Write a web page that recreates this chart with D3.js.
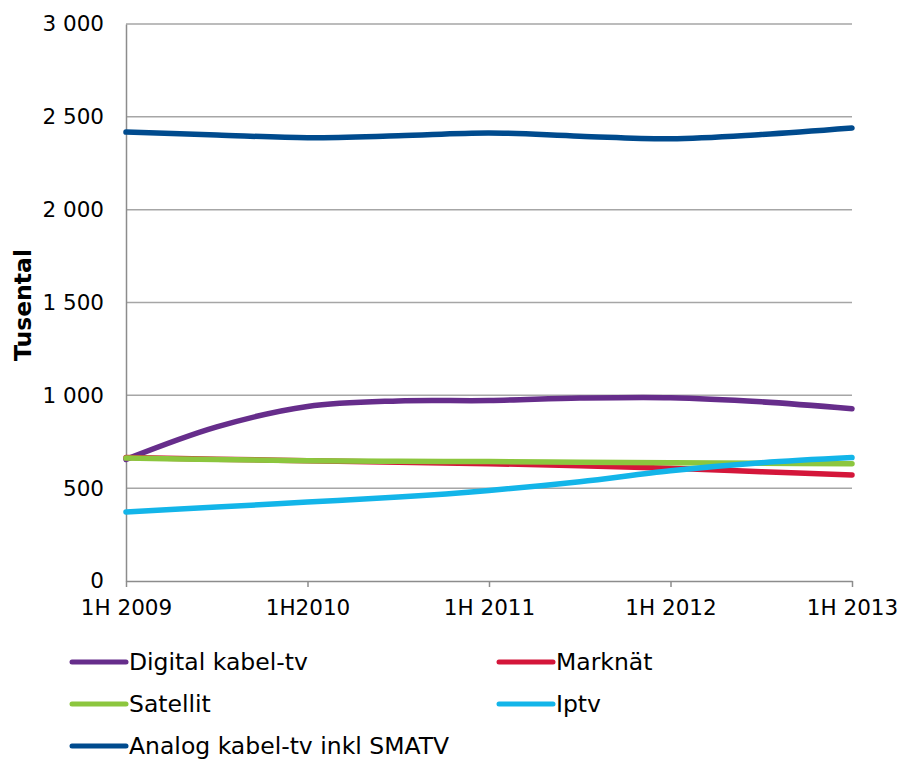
<!DOCTYPE html>
<html>
<head>
<meta charset="utf-8">
<script src="https://cdn.jsdelivr.net/npm/d3@7"></script>
<style>
  body { margin: 0; background: #fff; }
  svg { display: block; font-family: "DejaVu Sans", Verdana, sans-serif; }
</style>
</head>
<body>
<svg id="chart" width="898" height="760"></svg>
<script>
// half-year periods, labels only on every second one
var periods = ["1H 2009", "2H 2009", "1H2010", "2H 2010", "1H 2011", "2H 2011", "1H 2012", "2H 2012", "1H 2013"];
var tickLabels = ["1H 2009", "1H2010", "1H 2011", "1H 2012", "1H 2013"];
var yTicks = [0, 500, 1000, 1500, 2000, 2500, 3000];

var seriesNames = ["Digital kabel-tv", "Marknät", "Satellit", "Iptv", "Analog kabel-tv inkl SMATV"];
var digital = [655, 830, 940, 970, 972, 985, 987, 965, 928];
var marknat = [665, 656, 648, 640, 632, 621, 607, 589, 571];
var satellit = [662, 654, 648, 645, 643, 640, 637, 634, 631];
var iptv = [372, 398, 425, 452, 488, 535, 594, 637, 665];
var analog = [2418, 2402, 2388, 2398, 2413, 2396, 2382, 2405, 2440];

var colors = ["#662d8b", "#d4163a", "#8cc63e", "#13b5e9", "#004b8e"];

var svg = d3.select("#chart");
var plotLeft = 126, plotRight = 852, plotTop = 24, plotBottom = 581;

var x = d3.scaleLinear().domain([0, periods.length - 1]).range([plotLeft, plotRight]);
var y = d3.scaleLinear().domain([0, 3000]).range([plotBottom, plotTop]);

var fmt = function(v) { return d3.format(",")(v).replace(/,/g, " "); };

// gridlines
svg.append("g").selectAll("line").data(yTicks.filter(function(d) { return d > 0; }))
  .enter().append("line")
  .attr("x1", plotLeft).attr("x2", plotRight)
  .attr("y1", function(d) { return y(d); }).attr("y2", function(d) { return y(d); })
  .attr("stroke", "#a6a6a6").attr("stroke-width", 1.5);

// y axis
var yAxis = svg.append("g").attr("transform", "translate(" + plotLeft + ",0)")
  .call(d3.axisLeft(y).tickValues(yTicks).tickFormat(fmt).tickSize(0).tickPadding(22));
yAxis.select(".domain").attr("stroke", "#8c8c8c").attr("stroke-width", 1.5);
yAxis.selectAll("text").attr("font-size", 21.5).attr("fill", "#000")
  .attr("font-family", "DejaVu Sans, Verdana, sans-serif");

// x axis
var xAxis = svg.append("g").attr("transform", "translate(0," + plotBottom + ")")
  .call(d3.axisBottom(x).tickValues([0, 2, 4, 6, 8])
    .tickFormat(function(d, i) { return tickLabels[i]; })
    .tickSizeInner(6).tickSizeOuter(0).tickPadding(13));
xAxis.select(".domain").attr("stroke", "#8c8c8c").attr("stroke-width", 1.5);
xAxis.selectAll(".tick line").attr("stroke", "#8c8c8c").attr("stroke-width", 1.5);
xAxis.selectAll("text").attr("font-size", 21.5).attr("fill", "#000")
  .attr("font-family", "DejaVu Sans, Verdana, sans-serif");

// y title
svg.append("text")
  .attr("transform", "translate(31,305) rotate(-90)")
  .attr("text-anchor", "middle")
  .attr("font-size", 23.5).attr("font-weight", "bold")
  .text("Tusental");

// lines
var line = d3.line()
  .x(function(d, i) { return x(i); })
  .y(function(d) { return y(d); })
  .curve(d3.curveCatmullRom.alpha(0.5));

var allSeries = [digital, marknat, satellit, iptv, analog];
svg.append("g").selectAll("path").data(allSeries)
  .enter().append("path")
  .attr("d", line)
  .attr("fill", "none")
  .attr("stroke", function(d, i) { return colors[i]; })
  .attr("stroke-width", 5.5)
  .attr("stroke-linecap", "round")
  .attr("stroke-linejoin", "round");

// legend
var legendPos = [[70, 662], [497, 662], [70, 704], [497, 704], [70, 746]];
var legend = svg.append("g").selectAll("g").data(seriesNames)
  .enter().append("g")
  .attr("transform", function(d, i) { return "translate(" + legendPos[i][0] + "," + legendPos[i][1] + ")"; });
legend.append("line")
  .attr("x1", 2).attr("x2", 56)
  .attr("stroke", function(d, i) { return colors[i]; })
  .attr("stroke-width", 5).attr("stroke-linecap", "round");
legend.append("text")
  .attr("x", 59).attr("dy", "0.35em")
  .attr("font-size", 23.5)
  .text(function(d) { return d; });
</script>
</body>
</html>
